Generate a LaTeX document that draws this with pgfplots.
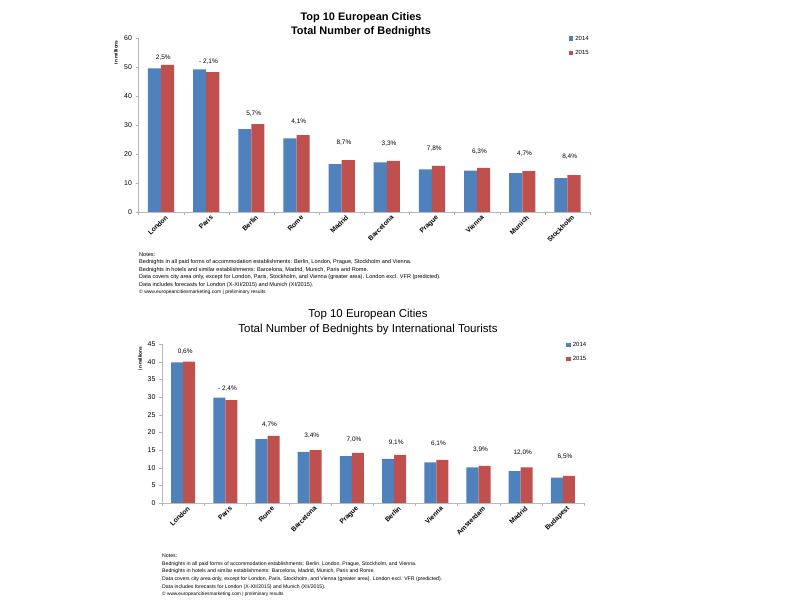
\documentclass[border=0pt]{standalone}
\usepackage{pgfplots}
\pgfplotsset{compat=1.18}
\usepackage{fontspec}
\setmainfont{Liberation Sans}
\definecolor{bar14}{RGB}{79,129,189}
\definecolor{bar15}{RGB}{192,80,77}
\newcommand{\fs}[2]{\fontsize{#1}{#2}\selectfont}

\pgfplotsset{
  sqlegend/.style={legend image code/.code={\fill[##1] (0bp,-2.2bp) rectangle (4.4bp,2.2bp);}},
  citybars/.style={
    scale only axis,
    xmin=-0.5, xmax=9.5, ymin=0,
    axis lines*=left,
    axis line style={gray!55,-},
    tick align=outside,
    tick style={gray!60},
    major tick length=3bp, minor tick length=3bp,
    xtick={0,...,9},
    minor xtick={-0.5,0.5,...,9.5},
    major x tick style={draw=none},
    /pgf/number format/assume math mode=true,
    yticklabel style={font=\fs{7}{8}},
    xticklabel style={rotate=45, anchor=east, font=\bfseries\fs{6.8}{7.5}, xshift=4bp, yshift=-5bp, inner sep=1pt},
    ylabel style={anchor=east, font=\bfseries\fs{4.8}{6}},
    legend style={draw=none, fill=none, font=\fs{6}{7}, inner sep=0pt,
      row sep=4.5bp, cells={anchor=west}},
    legend cell align=left,
  },
  pctlabels/.style={forget plot, draw=none, mark=none, nodes near coords,
    point meta=explicit symbolic,
    nodes near coords style={anchor=center, font=\fs{6.5}{7}, text=black}},
}

\begin{document}
\begin{tikzpicture}
\path[use as bounding box, fill=white] (0,0) rectangle (800bp,600bp);

% chart 1
\begin{axis}[citybars,
  at={(138.5bp,388bp)}, anchor=south west,
  width=451.5bp, height=174bp,
  ymax=60, ytick={0,10,...,60},
  xticklabels={London,Paris,Berlin,Rome,Madrid,Barcelona,Prague,Vienna,Munich,Stockholm},
  ylabel={in millions},
  ylabel style={at={(rel axis cs:-0.05,1.006)}},
  legend style={at={(rel axis cs:0.953,1.025)}, anchor=north west},
]
\addplot[ybar, bar width=0.29, bar shift=-0.145, fill=bar14, draw=none, sqlegend]
  coordinates {(0,49.5) (1,49.2) (2,28.6) (3,25.4) (4,16.5) (5,17.1) (6,14.7) (7,14.3) (8,13.4) (9,11.7)};
\addplot[ybar, bar width=0.29, bar shift=0.145, fill=bar15, draw=none, sqlegend]
  coordinates {(0,50.7) (1,48.2) (2,30.3) (3,26.5) (4,17.9) (5,17.6) (6,15.9) (7,15.2) (8,14.1) (9,12.7)};
\addplot[pctlabels] coordinates {
  (0.05,53.1) [2,5\%] (1.05,51.7) [- 2,1\%] (2.05,33.8) [5,7\%] (3.05,31.0) [4,1\%]
  (4.05,23.8) [8,7\%] (5.05,23.4) [3,3\%] (6.05,21.7) [7,8\%] (7.05,20.7) [6,3\%]
  (8.05,20.0) [4,7\%] (9.05,19.0) [8,4\%]};
\legend{2014,2015}
\end{axis}

% chart 2
\begin{axis}[citybars,
  at={(162bp,97bp)}, anchor=south west,
  width=422bp, height=159bp,
  ymax=45, ytick={0,5,...,45},
  xticklabels={London,Paris,Rome,Barcelona,Prague,Berlin,Vienna,Amsterdam,Madrid,Budapest},
  ylabel={in millions},
  ylabel style={at={(rel axis cs:-0.052,1.006)}},
  legend style={at={(rel axis cs:0.958,1.025)}, anchor=north west},
]
\addplot[ybar, bar width=0.285, bar shift=-0.1425, fill=bar14, draw=none, sqlegend]
  coordinates {(0,39.8) (1,29.8) (2,18.1) (3,14.5) (4,13.3) (5,12.5) (6,11.5) (7,10.1) (8,9.0) (9,7.2)};
\addplot[ybar, bar width=0.285, bar shift=0.1425, fill=bar15, draw=none, sqlegend]
  coordinates {(0,40.0) (1,29.1) (2,19.0) (3,15.0) (4,14.2) (5,13.6) (6,12.2) (7,10.5) (8,10.1) (9,7.7)};
\addplot[pctlabels] coordinates {
  (0.05,42.8) [0,6\%] (1.05,32.3) [- 2,4\%] (2.05,22.1) [4,7\%] (3.05,19.0) [3,4\%]
  (4.05,17.8) [7,0\%] (5.05,17.0) [9,1\%] (6.05,16.7) [6,1\%] (7.05,15.0) [3,9\%]
  (8.05,14.2) [12,0\%] (9.05,13.0) [6,5\%]};
\legend{2014,2015}
\end{axis}

% titles
\node[font=\bfseries\fs{11}{14}, align=center] at (361bp,575bp)
  {Top 10 European Cities\\Total Number of Bednights};
\node[font=\fs{11.5}{15}, align=center] at (368bp,278bp)
  {Top 10 European Cities\\Total Number of Bednights by International Tourists};

% notes
\node[anchor=north west, align=left, inner sep=0pt, font=\fs{5.6}{7.6}] at (139bp,348bp)
  {Notes:\\
   Bednights in all paid forms of accommodation establishments: Berlin, London, Prague, Stockholm and Vienna.\\
   Bednights in hotels and similar establishments: Barcelona, Madrid, Munich, Paris and Rome.\\
   Data covers city area only, except for London, Paris, Stockholm, and Vienna (greater area). London excl. VFR (predicted).\\
   Data includes forecasts for London (X-XII/2015) and Munich (XI/2015).\\
   {\fs{5}{7.6}\textcopyright{} www.europeancitiesmarketing.com | preliminary results}};
\node[anchor=north west, align=left, inner sep=0pt, font=\fs{5.2}{7.6}] at (162bp,46bp)
  {Notes:\\
   Bednights in all paid forms of accommodation establishments: Berlin, London, Prague, Stockholm, and Vienna.\\
   Bednights in hotels and similar establishments: Barcelona, Madrid, Munich, Paris and Rome.\\
   Data covers city area only, except for London, Paris, Stockholm, and Vienna (greater area). London excl. VFR (predicted).\\
   Data includes forecasts for London (X-XII/2015) and Munich (XII/2015).\\
   {\fs{4.8}{7.6}\textcopyright{} www.europeancitiesmarketing.com | preliminary results}};
\end{tikzpicture}
\end{document}
